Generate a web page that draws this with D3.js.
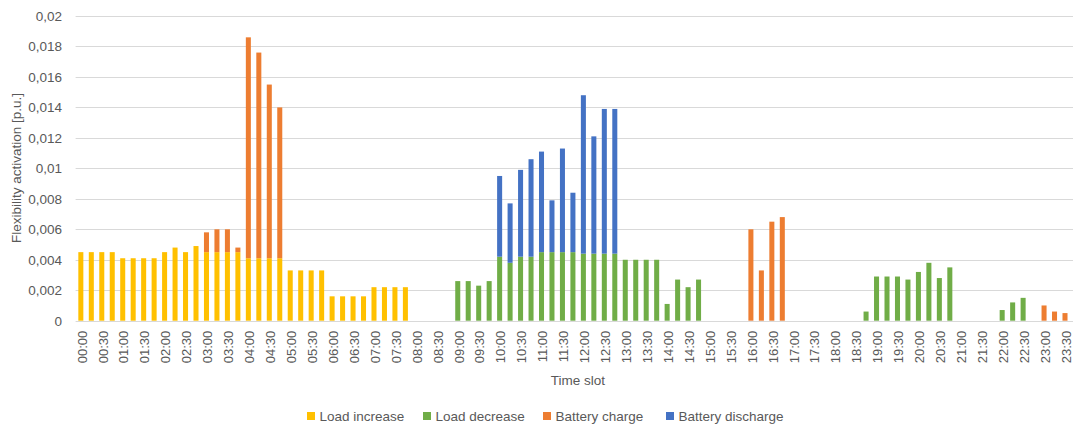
<!DOCTYPE html>
<html>
<head>
<meta charset="utf-8">
<script src="https://cdn.jsdelivr.net/npm/d3@7"></script>
<style>
  html, body { margin: 0; padding: 0; background: #fff; }
  svg { display: block; font-family: "Liberation Sans", Arial, sans-serif; }
</style>
</head>
<body>
<svg id="chart" width="1073" height="430"></svg>
<script>
// Quarter-hour time slots over one day
const timeSlots = [];
for (let h = 0; h < 24; h++) {
  for (let m = 0; m < 60; m += 15) {
    timeSlots.push(String(h).padStart(2, "0") + ":" + String(m).padStart(2, "0"));
  }
}

// Flexibility activation per slot [p.u.]
const loadIncrease = [
  0.0045, 0.0045, 0.0045, 0.0045, 0.0041, 0.0041, 0.0041, 0.0041,
  0.0045, 0.0048, 0.0045, 0.0049, 0.0045, 0.0045, 0.0045, 0.0045,
  0.0041, 0.0041, 0.0041, 0.0041, 0.0033, 0.0033, 0.0033, 0.0033,
  0.0016, 0.0016, 0.0016, 0.0016, 0.0022, 0.0022, 0.0022, 0.0022,
  0, 0, 0, 0, 0, 0, 0, 0, 0, 0, 0, 0, 0, 0, 0, 0,
  0, 0, 0, 0, 0, 0, 0, 0, 0, 0, 0, 0, 0, 0, 0, 0,
  0, 0, 0, 0, 0, 0, 0, 0, 0, 0, 0, 0, 0, 0, 0, 0,
  0, 0, 0, 0, 0, 0, 0, 0, 0, 0, 0, 0, 0, 0, 0, 0
];
const loadDecrease = [
  0, 0, 0, 0, 0, 0, 0, 0, 0, 0, 0, 0, 0, 0, 0, 0,
  0, 0, 0, 0, 0, 0, 0, 0, 0, 0, 0, 0, 0, 0, 0, 0,
  0, 0, 0, 0, 0.0026, 0.0026, 0.0023, 0.0026,
  0.0042, 0.0038, 0.0042, 0.0042, 0.0045, 0.0045, 0.0045, 0.0045,
  0.0044, 0.0044, 0.0044, 0.0044, 0.0040, 0.0040, 0.0040, 0.0040,
  0.0011, 0.0027, 0.0022, 0.0027, 0, 0, 0, 0,
  0, 0, 0, 0, 0, 0, 0, 0, 0, 0, 0, 0.0006,
  0.0029, 0.0029, 0.0029, 0.0027, 0.0032, 0.0038, 0.0028, 0.0035,
  0, 0, 0, 0, 0.0007, 0.0012, 0.0015, 0,
  0, 0, 0, 0
];
const batteryCharge = [
  0, 0, 0, 0, 0, 0, 0, 0, 0, 0, 0, 0,
  0.0013, 0.0015, 0.0015, 0.0003, 0.0145, 0.0135, 0.0114, 0.0099,
  0, 0, 0, 0, 0, 0, 0, 0, 0, 0, 0, 0,
  0, 0, 0, 0, 0, 0, 0, 0, 0, 0, 0, 0, 0, 0, 0, 0,
  0, 0, 0, 0, 0, 0, 0, 0, 0, 0, 0, 0, 0, 0, 0, 0,
  0.0060, 0.0033, 0.0065, 0.0068, 0, 0, 0, 0,
  0, 0, 0, 0, 0, 0, 0, 0, 0, 0, 0, 0, 0, 0, 0, 0,
  0, 0, 0, 0, 0.0010, 0.0006, 0.0005, 0
];
const batteryDischarge = [
  0, 0, 0, 0, 0, 0, 0, 0, 0, 0, 0, 0, 0, 0, 0, 0,
  0, 0, 0, 0, 0, 0, 0, 0, 0, 0, 0, 0, 0, 0, 0, 0,
  0, 0, 0, 0, 0, 0, 0, 0,
  0.0053, 0.0039, 0.0057, 0.0064, 0.0066, 0.0034, 0.0068, 0.0039,
  0.0104, 0.0077, 0.0095, 0.0095, 0, 0, 0, 0,
  0, 0, 0, 0, 0, 0, 0, 0, 0, 0, 0, 0, 0, 0, 0, 0,
  0, 0, 0, 0, 0, 0, 0, 0, 0, 0, 0, 0, 0, 0, 0, 0,
  0, 0, 0, 0, 0, 0, 0, 0, 0, 0, 0, 0, 0, 0, 0, 0
];

const seriesNames = ["Load increase", "Load decrease", "Battery charge", "Battery discharge"];
const seriesColors = ["#FFC000", "#70AD47", "#ED7D31", "#4472C4"];

const yTickValues = [0, 0.002, 0.004, 0.006, 0.008, 0.01, 0.012, 0.014, 0.016, 0.018, 0.02];
const yTickLabels = ["0", "0,002", "0,004", "0,006", "0,008", "0,01", "0,012", "0,014", "0,016", "0,018", "0,02"];

const yAxisTitle = "Flexibility activation [p.u.]";
const xAxisTitle = "Time slot";

// Rows for the stack layout
const keys = ["inc", "dec", "chg", "dis"];
const rows = timeSlots.map((t, i) => ({
  slot: t,
  inc: loadIncrease[i],
  dec: loadDecrease[i],
  chg: batteryCharge[i],
  dis: batteryDischarge[i]
}));

const svg = d3.select("#chart");
const textColor = "#595959";
const gridColor = "#D9D9D9";

const plot = { left: 75.6, right: 1080.7, top: 16, bottom: 320.7 };

const x = d3.scaleBand()
  .domain(timeSlots)
  .range([plot.left, plot.right])
  .paddingInner(0.52)
  .paddingOuter(0.26);

const y = d3.scaleLinear()
  .domain([0, 0.02])
  .range([plot.bottom, plot.top]);

// Horizontal gridlines
svg.append("g")
  .selectAll("line")
  .data(yTickValues)
  .join("line")
  .attr("x1", plot.left)
  .attr("x2", plot.right)
  .attr("y1", d => Math.round(y(d)) + 0.5)
  .attr("y2", d => Math.round(y(d)) + 0.5)
  .attr("stroke", gridColor)
  .attr("stroke-width", 1);

// Y axis labels
const yAxis = d3.axisLeft(y)
  .tickValues(yTickValues)
  .tickFormat((d, i) => yTickLabels[i])
  .tickSize(0)
  .tickPadding(0);

svg.append("g")
  .attr("transform", `translate(${62},0)`)
  .call(yAxis)
  .call(g => g.select(".domain").remove())
  .call(g => g.selectAll("text")
    .attr("fill", textColor)
    .attr("font-size", "13.5px")
    .attr("font-family", "'Liberation Sans', Arial, sans-serif"));

// Stacked bars
const stacked = d3.stack().keys(keys)(rows);

svg.append("g")
  .selectAll("g")
  .data(stacked)
  .join("g")
  .attr("fill", (d, i) => seriesColors[i])
  .selectAll("rect")
  .data(d => d.filter(s => s[1] - s[0] > 0))
  .join("rect")
  .attr("x", d => x(d.data.slot))
  .attr("width", x.bandwidth())
  .attr("y", d => y(d[1]))
  .attr("height", d => y(d[0]) - y(d[1]));

// X axis labels: every other slot (half-hour marks)
const xAxis = d3.axisBottom(x)
  .tickValues(timeSlots.filter((d, i) => i % 2 === 0))
  .tickSize(0)
  .tickPadding(0);

svg.append("g")
  .attr("transform", `translate(0,${plot.bottom})`)
  .call(xAxis)
  .call(g => g.select(".domain").remove())
  .call(g => g.selectAll("text")
    .attr("fill", textColor)
    .attr("font-size", "13px")
    .attr("font-family", "'Liberation Sans', Arial, sans-serif")
    .attr("text-anchor", "end")
    .attr("transform", "translate(1.2,10) rotate(-90)")
    .attr("x", 0)
    .attr("y", 0)
    .attr("dy", "0.35em"));

// Axis titles
svg.append("text")
  .attr("transform", `translate(21,168) rotate(-90)`)
  .attr("text-anchor", "middle")
  .attr("fill", textColor)
  .attr("font-size", "13.5px")
  .text(yAxisTitle);

svg.append("text")
  .attr("x", 578)
  .attr("y", 385)
  .attr("text-anchor", "middle")
  .attr("fill", textColor)
  .attr("font-size", "13.5px")
  .text(xAxisTitle);

// Legend
const legendX = [307, 423, 543, 666];
const legend = svg.append("g")
  .selectAll("g")
  .data(seriesNames)
  .join("g")
  .attr("transform", (d, i) => `translate(${legendX[i]},412)`);

legend.append("rect")
  .attr("width", 8)
  .attr("height", 8)
  .attr("fill", (d, i) => seriesColors[i]);

legend.append("text")
  .attr("x", 12.5)
  .attr("y", 9)
  .attr("fill", textColor)
  .attr("font-size", "13.5px")
  .text(d => d);
</script>
</body>
</html>
